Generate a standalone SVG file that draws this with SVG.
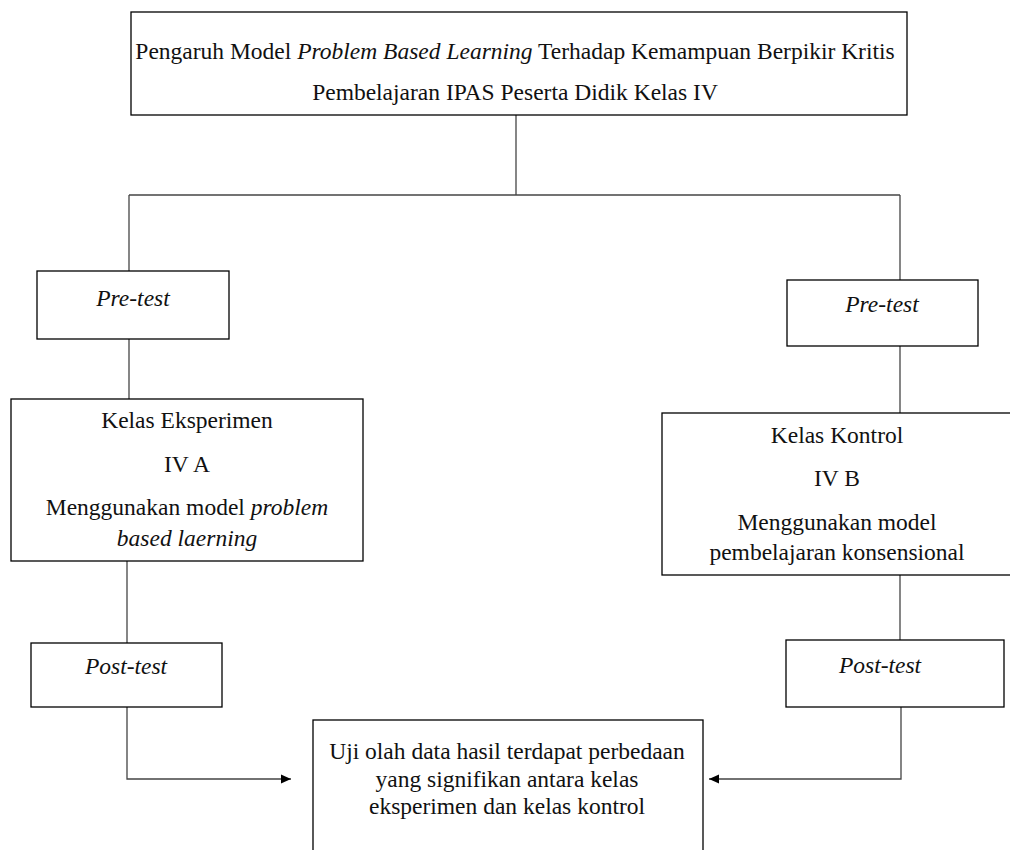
<svg xmlns="http://www.w3.org/2000/svg" width="1010" height="850" viewBox="0 0 1010 850">
<style>
.box{fill:#fff;stroke:#000;stroke-width:1.3}
.ln{fill:none;stroke:#444;stroke-width:1.3}
text{font-family:"Liberation Serif","Times New Roman",serif;font-size:23.5px;fill:#111;text-anchor:middle}
.it{font-style:italic}
</style>
<defs>
<marker id="ah" markerWidth="12" markerHeight="12" refX="10" refY="6" orient="auto" markerUnits="userSpaceOnUse">
<path d="M0,1.5 L10,6 L0,10.5 z" fill="#000"/>
</marker>
</defs>
<rect width="1010" height="850" fill="#fff"/>
<g id="connectors">
<path class="ln" d="M516,115 V195"/>
<path class="ln" d="M129,195 H900"/>
<path class="ln" d="M129,195 V271"/>
<path class="ln" d="M900,195 V280"/>
<path class="ln" d="M129,339 V399"/>
<path class="ln" d="M900,346 V413"/>
<path class="ln" d="M127,561 V643"/>
<path class="ln" d="M900,575 V640"/>
<path class="ln" d="M127,707 V779 H291" marker-end="url(#ah)"/>
<path class="ln" d="M901,707 V779 H709" marker-end="url(#ah)"/>
</g>
<g id="title">
<rect class="box" x="131" y="12" width="776" height="103"/>
<text x="515" y="59">Pengaruh Model <tspan class="it">Problem Based Learning</tspan> Terhadap Kemampuan Berpikir Kritis</text>
<text x="515" y="100">Pembelajaran IPAS Peserta Didik Kelas IV</text>
</g>
<g id="pretest-left">
<rect class="box" x="37" y="271" width="192" height="68"/>
<text class="it" x="133" y="306">Pre-test</text>
</g>
<g id="pretest-right">
<rect class="box" x="787" y="280" width="191" height="66"/>
<text class="it" x="882" y="312">Pre-test</text>
</g>
<g id="kelas-eksperimen">
<rect class="box" x="11" y="399" width="352" height="162"/>
<text x="187" y="428">Kelas Eksperimen</text>
<text x="187" y="472">IV A</text>
<text x="187" y="515">Menggunakan model <tspan class="it">problem</tspan></text>
<text class="it" x="187" y="546">based laerning</text>
</g>
<g id="kelas-kontrol">
<rect class="box" x="662" y="413" width="360" height="162"/>
<text x="837" y="443">Kelas Kontrol</text>
<text x="837" y="486">IV B</text>
<text x="837" y="530">Menggunakan model</text>
<text x="837" y="560">pembelajaran konsensional</text>
</g>
<g id="posttest-left">
<rect class="box" x="31" y="643" width="191" height="64"/>
<text class="it" x="126" y="674">Post-test</text>
</g>
<g id="posttest-right">
<rect class="box" x="786" y="640" width="218" height="67"/>
<text class="it" x="880" y="673">Post-test</text>
</g>
<g id="hasil">
<rect class="box" x="313" y="720" width="390" height="140"/>
<text x="507" y="759">Uji olah data hasil terdapat perbedaan</text>
<text x="507" y="787">yang signifikan antara kelas</text>
<text x="507" y="814">eksperimen dan kelas kontrol</text>
</g>
</svg>
